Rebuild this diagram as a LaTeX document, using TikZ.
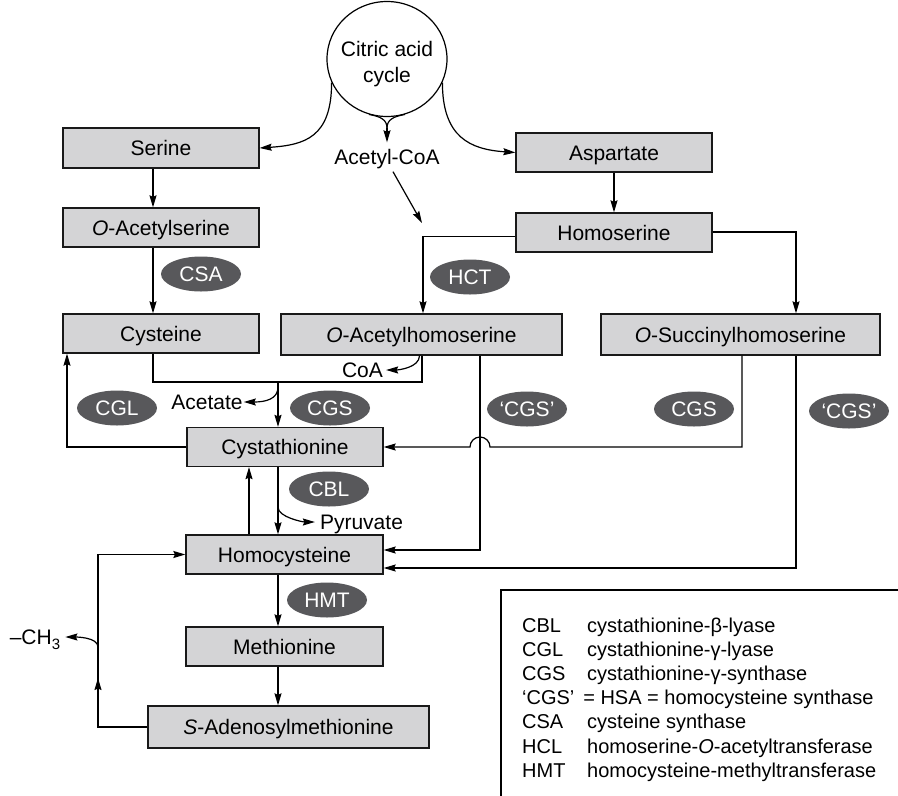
\documentclass[tikz,border=0pt]{standalone}
\usepackage{fontspec}
\setmainfont{Liberation Sans}
\usetikzlibrary{shapes.geometric,arrows.meta,calc}
\definecolor{boxgray}{HTML}{D4D4D6}
\definecolor{enzgray}{HTML}{58585B}
\begin{document}
\begin{tikzpicture}[x=1pt,y=-1pt,
  every node/.style={font=\fontsize{21}{26}\selectfont, text height=15pt, text depth=0pt, inner sep=1pt},
  box/.style={draw=black!90, line width=1.3pt, fill=boxgray, minimum width=196pt, minimum height=39pt, inner sep=0pt},
  enz/.style={ellipse, fill=enzgray, text=white, minimum width=80pt, minimum height=35pt, inner sep=0pt},
  arr/.style={line width=1.2pt, -{Stealth[length=12pt,width=7pt,inset=1.5pt]}},
  ln/.style={line width=1.2pt},
  lab/.style={anchor=west, inner sep=0pt, font=\fontsize{20}{24}\selectfont, text height=14pt}]
\useasboundingbox (0,0) rectangle (898,796);

% coordinates for vertical lines
\coordinate (lx) at (153,0);
\coordinate (jx) at (278,0);
\coordinate (x67) at (67,0);
\coordinate (x98) at (98,0);
\coordinate (x249) at (249,0);
\coordinate (x422) at (422,0);
\coordinate (x423) at (423,0);
\coordinate (x480) at (480,0);
\coordinate (x490) at (490,0);
\coordinate (x742) at (742,0);
\coordinate (x796) at (796,0);

% citric acid cycle
\node[ellipse, draw, line width=1.2pt, minimum width=120pt, minimum height=115pt] (cac) at (387,59) {};
\node[align=center, text height=, text depth=] (cactxt) at (387,64) {Citric acid\\cycle};
\node[inner sep=7pt] (acoa) at (387,157) {Acetyl-CoA};

% boxes
\node[box, minimum height=40pt] (serine) at (161,148) {Serine};
\node[box] (oas) at (161,227.5) {\textit{O}-Acetylserine};
\node[box] (cys) at (161,333.5) {Cysteine};
\node[box] (asp) at (614,152.5) {Aspartate};
\node[box] (hom) at (614,232.5) {Homoserine};
\node[box, minimum width=281pt, minimum height=41pt] (oah) at (421.5,334.5) {\textit{O}-Acetylhomoserine};
\node[box, minimum width=279pt, minimum height=41pt] (osh) at (740.5,334.5) {\textit{O}-Succinylhomoserine};
\node[box] (cth) at (285,447) {Cystathionine};
\node[box, minimum width=197pt] (hcy) at (284.5,554.5) {Homocysteine};
\node[box, minimum width=197pt] (met) at (284.5,646.5) {Methionine};
\node[box, minimum width=281pt, minimum height=42pt] (sam) at (288.5,727) {\textit{S}-Adenosylmethionine};

% enzymes
\node[enz] (csa) at (201,274) {CSA};
\node[enz] (hct) at (470,277) {HCT};
\node[enz] (cgl) at (117,408) {CGL};
\node[enz] (cgs1) at (330,408) {CGS};
\node[enz] (qcgs1) at (527,409) {‘CGS’};
\node[enz] (cgs2) at (694,409) {CGS};
\node[enz] (qcgs2) at (849,411) {‘CGS’};
\node[enz] (cbl) at (329,489) {CBL};
\node[enz] (hmt) at (327,600) {HMT};

% side products
\node (acetate) at (207,402) {Acetate};
\node[inner sep=3pt] (coa) at (362.5,370) {CoA};
\node[inner sep=5pt] (pyr) at (361.5,522) {Pyruvate};
\node[inner sep=5pt] (ch3) at (35,637) {–CH\raisebox{-5pt}{\fontsize{15}{15}\selectfont 3}};

% citric acid cycle arrows
\draw[arr] (cac.203) .. controls +(0,55) and +(45,-3) .. (serine.east);
\draw[arr] (cac.337) .. controls +(0,55) and +(-45,-3) .. (asp.west);
\coordinate (fork) at (387,128);
\draw[ln] (cac.252) .. controls +(12,2) and +(0,-8) .. (fork);
\draw[ln] (cac.288) .. controls +(-12,2) and +(0,-8) .. (fork);
\draw[arr] (fork) -- (acoa.north);
\coordinate (acend) at (422,223);
\draw[arr] ([xshift=6pt]acoa.south) -- (acend);

% serine branch
\draw[arr] (serine.south -| lx) -- (oas.north -| lx);
\draw[arr] (oas.south -| lx) -- (cys.north -| lx);

% aspartate branch
\draw[arr] (asp.south) -- (hom.north);
\draw[arr] ([yshift=-4pt]hom.west) -| (oah.north -| x423);
\draw[arr] ([yshift=0.5pt]hom.east) -| (osh.north -| x796);

% cysteine + O-acetylhomoserine -> cystathionine
\coordinate (brk) at (278,382);
\draw[ln] (cys.south -| lx) |- (brk) -| (oah.south -| x422);
\draw[arr] (brk) -- (cth.north -| jx);
\draw[arr] ($(brk)+(0,5)$) .. controls +(0,12) and +(22,0) .. (acetate.east);
\draw[arr] ([xshift=-2pt]oah.south) .. controls +(0,12) and +(12,0) .. (coa.east);

% cystathionine -> cysteine (CGL)
\draw[arr] (cth.west) -| (cys.south -| x67);

% O-succinylhomoserine -> cystathionine, with jump
\draw[arr] (osh.south -| x742) -- (x742 |- cth.east) -- (x490 |- cth.east)
  arc[start angle=0, end angle=180, radius=10pt] -- (cth.east);

% O-acetylhomoserine -> homocysteine
\draw[arr] (oah.south -| x480) |- ([yshift=4.5pt]hcy.east);
% O-succinylhomoserine -> homocysteine
\draw[arr] (osh.south -| x796) |- ([yshift=-13.5pt]hcy.east);

% cystathionine <-> homocysteine
\draw[arr] (hcy.north -| x249) -- (cth.south -| x249);
\draw[arr] (cth.south -| jx) -- (hcy.north -| jx);
\draw[arr] ($(cth.south -| jx)+(0,40)$) .. controls +(0,10) and +(-12,0) .. (pyr.west);

% methionine cycle
\draw[arr] (hcy.south -| jx) -- (met.north -| jx);
\draw[arr] (met.south -| jx) -- (sam.north -| jx);
\draw[arr] (sam.west) -| (x98 |- hcy.west) -- (hcy.west);
\coordinate (midup) at (98,678);
\draw[arr] (x98 |- sam.west) -- (midup);
\coordinate (ch3s) at (98,647);
\draw[arr] (ch3s) .. controls +(0,-10) and +(10,0) .. (ch3.east);

% legend
\coordinate (lg0) at (501,796);
\coordinate (lg1) at (501,590);
\coordinate (lg2) at (898,590);
\draw[ln] (lg0) -- (lg1) -- (lg2);
\node[lab] (l1a) at (522,625) {CBL};
\node[lab] (l1b) at (587,625) {cystathionine-β-lyase};
\node[lab] (l2a) at (522,649) {CGL};
\node[lab] (l2b) at (587,649) {cystathionine-γ-lyase};
\node[lab] (l3a) at (522,673) {CGS};
\node[lab] (l3b) at (587,673) {cystathionine-γ-synthase};
\node[lab] (l4a) at (522,697) {‘CGS’ \,= HSA = homocysteine synthase};
\node[lab] (l5a) at (522,721) {CSA};
\node[lab] (l5b) at (587,721) {cysteine synthase};
\node[lab] (l6a) at (522,746) {HCL};
\node[lab] (l6b) at (587,746) {homoserine-\textit{O}-acetyltransferase};
\node[lab] (l7a) at (522,770) {HMT};
\node[lab] (l7b) at (587,770) {homocysteine-methyltransferase};
\end{tikzpicture}
\end{document}
